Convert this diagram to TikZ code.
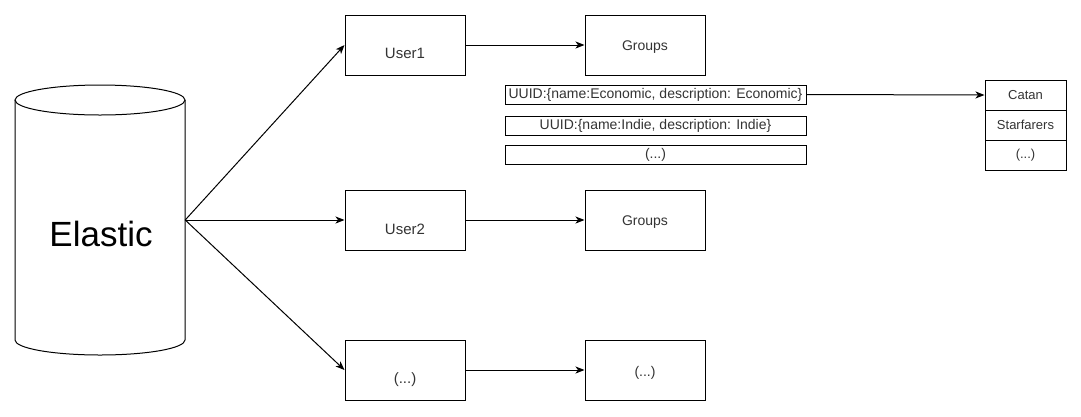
\documentclass[tikz,border=0pt]{standalone}
\usepackage{fontspec}
\setmainfont{Liberation Sans}
\usetikzlibrary{arrows.meta}
\definecolor{txtgray}{HTML}{333333}
\tikzset{
  box/.style={draw=black, line width=1pt, minimum width=120pt, minimum height=60pt, inner sep=0pt},
  rowbox/.style={draw=black, line width=1pt, minimum width=301pt, minimum height=19pt, inner sep=0pt, font=\fontsize{14pt}{16pt}\selectfont, text=txtgray},
  cellbox/.style={draw=black, line width=1pt, minimum width=81pt, minimum height=30pt, inner sep=0pt, font=\fontsize{13pt}{15pt}\selectfont, text=txtgray},
  txt/.style={inner sep=0pt, anchor=base, text=txtgray},
  utxt/.style={txt, font=\fontsize{15pt}{17pt}\selectfont},
  gtxt/.style={txt, font=\fontsize{14pt}{16pt}\selectfont},
  conn/.style={line width=1pt, -{Stealth[length=9pt,width=7pt,inset=2.5pt]}},
}
\begin{document}
\begin{tikzpicture}[x=1pt,y=1pt]
\useasboundingbox (0,0) rectangle (1081,-416);
% cylinder
\node[minimum width=170pt, minimum height=270pt, inner sep=0pt] (elastic) at (100,-220) {};
\draw[line width=1pt, fill=white] (15,-100) -- (15,-340) arc[start angle=180, end angle=360, x radius=85, y radius=15] -- (185,-100);
\draw[line width=1pt] (100,-100) ellipse [x radius=85, y radius=15];
\node[inner sep=0pt, anchor=base, font=\fontsize{35pt}{40pt}\selectfont] (elastict) at (101,-246) {Elastic};
% users
\node[box] (u1) at (405,-45) {};
\node[utxt] (u1t) at (405,-58) {User1};
\node[box] (u2) at (405,-220) {};
\node[utxt] (u2t) at (405,-234) {User2};
\node[box] (u3) at (405,-370) {};
\node[utxt] (u3t) at (405,-383) {(...)};
% groups
\node[box] (g1) at (645,-45) {};
\node[gtxt] (g1t) at (645,-50) {Groups};
\node[box] (g2) at (645,-220) {};
\node[gtxt] (g2t) at (645,-225) {Groups};
\node[box] (g3) at (645,-370) {};
\node[gtxt] (g3t) at (645,-376) {(...)};
% uuid rows
\node[rowbox] (r1) at (655.5,-94.5) {UUID:\{name:Economic, description: Economic\}};
\node[rowbox] (r2) at (655.5,-125.5) {UUID:\{name:Indie, description: Indie\}};
\node[rowbox] (r3) at (655.5,-154.5) {(...)};
% list
\node[cellbox] (c1) at (1025.5,-95) {Catan};
\node[cellbox] (c2) at (1025.5,-125) {Starfarers};
\node[cellbox] (c3) at (1025.5,-155) {(...)};
% connectors
\draw[conn] (elastic.east) -- (u1.west);
\draw[conn] (elastic.east) -- (u2.west);
\draw[conn] (elastic.east) -- (u3.west);
\draw[conn] (u1.east) -- (g1.west);
\draw[conn] (u2.east) -- (g2.west);
\draw[conn] (u3.east) -- (g3.west);
\draw[conn] (r1.east) -- (c1.west);
\end{tikzpicture}
\end{document}
